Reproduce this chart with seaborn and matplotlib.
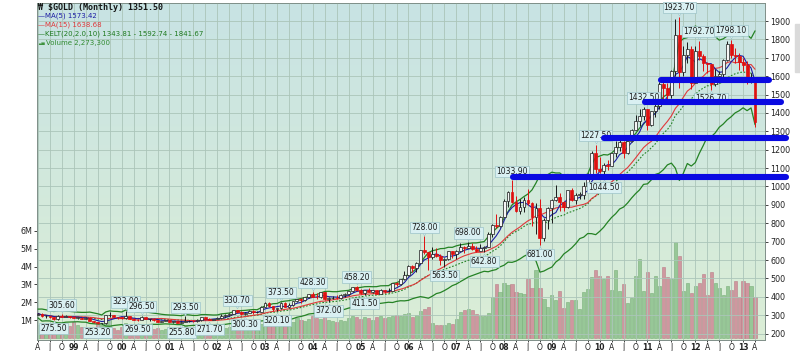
import numpy as np
import pandas as pd
import seaborn as sns
import matplotlib
matplotlib.use('Agg')
import matplotlib.pyplot as plt
from matplotlib.colors import LinearSegmentedColormap
from matplotlib.transforms import offset_copy
from matplotlib.patches import Rectangle

# $GOLD monthly bars, Apr 1998 .. Apr 2013
opens = [301, 309, 293, 297, 288, 277, 294, 292, 294,
         288, 287, 287, 279, 287, 268, 262, 255, 255, 299, 299, 291,
         288, 283, 293, 279, 275, 273, 289, 278, 278, 273, 265, 269,
         273, 265, 267, 258, 264, 267, 270, 266, 273, 290, 279, 275,
         279, 283, 297, 301, 309, 326, 318, 305, 312, 323, 317, 318,
         347, 367, 348, 335, 337, 364, 346, 354, 375, 386, 385, 398,
         416, 400, 397, 424, 388, 394, 394, 391, 410, 416, 429, 453,
         438, 423, 436, 428, 436, 417, 437, 430, 433, 473, 470, 495,
         518, 569, 556, 584, 653, 643, 616, 633, 624, 599, 604, 648,
         632, 651, 670, 663, 679, 659, 650, 665, 673, 743, 789, 783,
         834, 923, 972, 916, 864, 887, 928, 912, 833, 884, 718, 819,
         884, 928, 942, 917, 887, 979, 927, 955, 955, 1003, 1040, 1181,
         1097, 1083, 1118, 1113, 1180, 1213, 1244, 1181, 1248, 1307, 1357, 1386,
         1421, 1333, 1410, 1439, 1557, 1536, 1500, 1628, 1825, 1620, 1717, 1746,
         1565, 1738, 1709, 1669, 1664, 1560, 1599, 1611, 1687, 1774, 1717, 1712,
         1675, 1663, 1578, 1595]
highs = [312, 311, 300, 297, 291, 300, 305.6, 299, 297,
         293, 291, 291, 291, 290, 268, 264, 258, 303, 320, 301, 292,
         291, 323, 295, 286, 277, 296.5, 292, 280, 280, 276, 271, 275,
         274, 269, 270, 266, 293.5, 276, 272, 279, 292, 290, 283, 281,
         289, 305, 304, 311, 328, 330.7, 322, 315, 326, 326, 322, 349,
         371, 372, 352, 341, 373.5, 371, 366, 376, 390, 392, 401, 417,
         428.3, 418, 426, 427, 397, 404, 408, 414, 420, 431, 455, 458.2,
         443, 438, 446, 438, 436, 442, 438, 448, 474, 480, 497, 541,
         572, 575, 587, 655, 728, 645, 669, 663, 634, 610, 650, 648,
         655, 690, 674, 698, 692, 676, 685, 679, 750, 795, 848, 840,
         930, 976, 1033.9, 950, 932, 945, 988, 918, 912, 932, 826, 888,
         932, 1007, 965, 920, 981, 992, 965, 970, 1024, 1071, 1195, 1227.5,
         1162, 1128, 1145, 1183, 1249, 1266, 1245, 1250, 1311, 1388, 1424, 1432.5,
         1424, 1412, 1447, 1569, 1577, 1561, 1633, 1912, 1923.7, 1764, 1788, 1765,
         1763, 1792.7, 1718, 1677, 1666, 1640, 1627, 1694, 1790, 1798.1, 1755, 1725,
         1697, 1683, 1617, 1597]
lows = [300, 291, 287, 286, 275.5, 276, 288, 290, 285,
        283, 280, 277, 277, 266, 256, 253.2, 253.5, 254, 291, 289, 277,
        280, 280, 277, 274, 269.5, 272, 277, 271, 270, 264, 263, 267,
        262, 256, 257, 255.8, 263, 265, 264, 265, 271, 276, 271.7, 272,
        277, 282, 289, 298, 307, 312, 302, 300.3, 311, 309, 314, 317,
        342, 344, 321, 320.1, 336, 343, 341, 351, 372, 367, 378, 396,
        398, 390, 393, 384, 372, 386, 386, 388, 398, 412, 424, 432,
        417, 411.5, 425, 423, 414, 414, 418, 428, 432, 458, 463, 490,
        515, 536, 536, 583, 633, 548, 608, 614, 573, 563.5, 601, 613,
        603, 649, 636, 663, 653, 643, 648, 642.8, 670, 725, 774, 780,
        833, 887, 912, 859, 850, 862, 902, 786, 740, 681, 705, 768,
        800, 922, 866, 866, 883, 919, 905, 932, 932, 1002, 1040, 1075,
        1072, 1044.5, 1088, 1112, 1162, 1192, 1155, 1175, 1241, 1305, 1330, 1360,
        1309, 1328, 1380, 1420, 1462, 1478, 1480, 1603, 1535, 1603, 1670, 1531,
        1563, 1690, 1627, 1615, 1526.7, 1545, 1565, 1590, 1684, 1697, 1673, 1634,
        1626, 1555, 1561, 1321]
closes = [309, 293, 297, 288, 277, 294, 292, 294, 288,
          287, 287, 279, 287, 268, 262, 255, 255, 299, 299, 291, 288,
          283, 293, 279, 275, 273, 289, 278, 278, 273, 265, 269, 273,
          265, 267, 258, 264, 267, 270, 266, 273, 290, 279, 275, 279,
          283, 297, 301, 309, 326, 318, 305, 312, 323, 317, 318, 347,
          367, 348, 335, 337, 364, 346, 354, 375, 386, 385, 398, 416,
          400, 397, 424, 388, 394, 394, 391, 410, 416, 429, 453, 438,
          423, 436, 428, 436, 417, 437, 430, 433, 473, 470, 495, 518,
          569, 556, 584, 653, 643, 616, 633, 624, 599, 604, 648, 632,
          651, 670, 663, 679, 659, 650, 665, 673, 743, 789, 783, 834,
          923, 972, 916, 864, 887, 928, 912, 833, 884, 718, 819, 884,
          928, 942, 917, 887, 979, 927, 955, 955, 1003, 1040, 1181, 1097,
          1083, 1118, 1113, 1180, 1213, 1244, 1181, 1248, 1307, 1357, 1386, 1421,
          1333, 1410, 1439, 1557, 1536, 1500, 1628, 1825, 1620, 1717, 1746, 1565,
          1738, 1709, 1669, 1664, 1560, 1599, 1611, 1687, 1774, 1717, 1712, 1675,
          1663, 1578, 1595, 1351.5]
# volume in millions
volumes = [0.70, 0.45, 0.55, 0.35, 0.45, 0.72, 0.50, 0.62, 0.65,
           0.90, 0.70, 0.60, 0.45, 0.55, 0.62, 0.90, 0.75, 0.95, 1.00, 0.55, 0.45,
           0.60, 0.85, 0.55, 0.45, 0.50, 0.55, 0.40, 0.45, 0.50, 0.55, 0.45, 0.50,
           0.55, 0.50, 0.45, 0.40, 0.65, 0.50, 0.45, 0.50, 0.60, 0.55, 0.45, 0.45,
           0.55, 0.65, 0.55, 0.60, 0.70, 0.75, 0.65, 0.55, 0.70, 0.65, 0.55, 0.80,
           0.90, 1.05, 0.95, 0.80, 0.95, 0.90, 0.85, 0.90, 1.10, 1.00, 0.95, 1.05,
           1.25, 1.10, 1.05, 1.20, 1.00, 0.95, 0.90, 1.00, 0.95, 1.10, 1.20, 1.15,
           1.05, 1.15, 1.10, 1.00, 1.15, 1.20, 1.10, 1.15, 1.20, 1.30, 1.25, 1.35,
           1.40, 1.15, 1.30, 1.50, 1.60, 1.75, 0.85, 0.75, 0.70, 0.75, 0.85, 0.80,
           1.05, 1.45, 1.55, 1.60, 1.55, 1.35, 1.20, 1.25, 1.40, 2.30, 3.00, 2.55,
           3.10, 2.95, 3.05,
           2.6, 2.5, 2.45, 3.3, 2.8, 3.8, 2.8, 2.2, 1.75, 2.4, 2.1, 2.65, 1.7,
           2.0, 2.1, 2.1, 1.6, 2.6, 2.75, 3.4, 3.8, 3.5, 3.3, 3.5, 2.7, 3.8,
           2.65, 3.0, 1.98, 2.25, 3.45, 4.4, 2.65, 3.7, 2.5, 3.45, 2.9, 4.0,
           3.4, 3.3, 5.4, 4.6, 2.65, 3.1, 2.5, 2.9, 3.1, 3.6, 2.4, 3.7, 3.1,
           2.8, 2.4, 2.9, 2.7, 3.2, 2.3, 3.2, 3.1, 2.9, 2.27]

# labelled swing points (month index from Apr 1998, H = high / L = low)
label_months = [4, 6, 15, 22, 25, 26, 36, 37, 43, 50, 52, 60, 61, 69, 73, 80, 82,
                97, 102, 108, 112, 119, 126, 140, 142, 152, 161, 166, 169, 174]
label_kind = ['L', 'H', 'L', 'H', 'L', 'H', 'L', 'H', 'L', 'H', 'L', 'L', 'H', 'H', 'L', 'H', 'L',
              'H', 'L', 'H', 'L', 'H', 'L', 'H', 'L', 'H', 'H', 'H', 'L', 'H']

# hand drawn blue support lines
support_levels = [1580, 1460, 1265, 1053]
support_from = [156.3, 152.5, 142.0, 119.3]
support_to = [183.4, 186.4, 187.7, 187.7]

df = pd.DataFrame({'m': np.arange(len(closes)), 'open': opens, 'high': highs,
                   'low': lows, 'close': closes, 'vol': volumes})
df['ma5'] = df['close'].rolling(5, min_periods=1).mean()
df['ma15'] = df['close'].rolling(15, min_periods=1).mean()
prev = df['close'].shift(1).fillna(df['open'])
tr = pd.concat([df['high'] - df['low'], (df['high'] - prev).abs(),
                (df['low'] - prev).abs()], axis=1).max(axis=1)
atr = tr.ewm(span=10).mean()
df['kmid'] = df['close'].ewm(span=20).mean()
df['kup'] = df['kmid'] + 2 * atr
df['klo'] = df['kmid'] - 2 * atr

sns.set_theme(style='white')
plt.rcParams['font.family'] = ['DejaVu Sans']

fig = plt.figure(figsize=(8, 3.51), dpi=100)
pos = [37 / 800, 11 / 351, 728 / 800, 337 / 351]
xlim = (-0.25, 182.5)

# volume panel underneath, with the gradient background
axv = fig.add_axes(pos)
bg = LinearSegmentedColormap.from_list('bg', ['#c8e3e4', '#dbeed6'])
axv.imshow(np.linspace(0, 1, 256).reshape(-1, 1), cmap=bg, extent=[0, 1, 0, 1],
           transform=axv.transAxes, aspect='auto', zorder=0)
vup = df['close'] >= prev
axv.bar(df['m'], df['vol'], width=0.8, color=np.where(vup, '#97c797', '#cf979f'),
        edgecolor=np.where(vup, '#79ae79', '#b97f88'), linewidth=0.4, zorder=2)
axv.set_xlim(xlim)
axv.set_ylim(-0.12, 18.8)
axv.set_yticks([1, 2, 3, 4, 5, 6])
axv.set_yticklabels([f'{v}M' for v in range(1, 7)])
axv.tick_params(axis='y', left=True, length=2, pad=1.5, labelsize=5.8,
                colors='#222222', width=0.6)
axv.tick_params(axis='x', bottom=False, labelbottom=False)
for s in axv.spines.values():
    s.set_color('#7f8f88')
    s.set_linewidth(0.6)

# price panel
ax = fig.add_axes(pos)
ax.patch.set_alpha(0)
ax.set_axisbelow(True)
quarters = list(range(0, len(closes), 3))
ax.set_xticks(quarters)
qlab = []
for i in quarters:
    mon = (i + 3) % 12 + 1
    yr = 1998 + (i + 3) // 12
    qlab.append(f'{yr % 100:02d}' if mon == 1 else {4: 'A', 7: 'J', 10: 'O'}[mon])
ax.set_xticklabels(qlab)
for t, s in zip(ax.get_xticklabels(), qlab):
    if s.isdigit():
        t.set_fontweight('bold')
ax.set_yticks(range(200, 2000, 100))
ax.yaxis.tick_right()
ax.tick_params(axis='y', right=True, length=2, pad=2, labelsize=5.8,
               colors='#222222', width=0.6)
ax.tick_params(axis='x', bottom=True, length=1.2, pad=0.6, labelsize=5.5,
               colors='#222222', width=0.6)
ax.grid(True, color='#abc5b9', linewidth=0.6)
for s in ax.spines.values():
    s.set_color('#7f8f88')
    s.set_linewidth(0.6)

sns.lineplot(data=df, x='m', y='kup', ax=ax, color='#248224', linewidth=0.9, zorder=3)
sns.lineplot(data=df, x='m', y='klo', ax=ax, color='#248224', linewidth=0.9, zorder=3)
sns.lineplot(data=df, x='m', y='kmid', ax=ax, color='#248224', linewidth=0.8,
             linestyle=(0, (1.5, 1.5)), zorder=3)
sns.lineplot(data=df, x='m', y='ma15', ax=ax, color='#e0383a', linewidth=0.8, zorder=3)
sns.lineplot(data=df, x='m', y='ma5', ax=ax, color='#1d1da3', linewidth=0.8, zorder=3)

# candles
up = df['close'] >= df['open']
ccol = np.where(up, '#1a1a1a', '#e01010')
ax.vlines(df['m'], df['low'], df['high'], colors=ccol, linewidth=0.7, zorder=4)
body = np.maximum((df['close'] - df['open']).abs(), 1.5)
ax.bar(df['m'], body, bottom=np.minimum(df['open'], df['close']), width=0.72,
       color=np.where(up, '#f5f5f5', '#e01010'), edgecolor=ccol, linewidth=0.5, zorder=5)

# swing labels
for m, kind in zip(label_months, label_kind):
    price = highs[m] if kind == 'H' else lows[m]
    dy = 6.5 if kind == 'H' else -6.5
    tip = offset_copy(ax.transData, fig=fig, x=0, y=dy * 0.42, units='points')
    ax.plot([m], [price], marker='v' if kind == 'H' else '^', ms=3.5, color='#d9f0f2',
            mec='#9cc3c8', mew=0.4, transform=tip, zorder=6)
    ax.annotate(f'{price:.2f}', xy=(m, price), xytext=(0, dy), textcoords='offset points',
                ha='center', va='center', fontsize=5.5, color='#1a1a1a', zorder=7,
                bbox=dict(boxstyle='square,pad=0.15', fc='#d9f0f2', ec='#9cc3c8', lw=0.5))

for lev, a, b in zip(support_levels, support_from, support_to):
    ax.plot([a, b], [lev, lev], color='#0a0ae2', linewidth=4.4, solid_capstyle='round',
            clip_on=False, zorder=8)

ax.set_xlim(xlim)
ax.set_ylim(165, 1998)
ax.set_xlabel('')
ax.set_ylabel('')

# legend block, top left
fig.text(38 / 800, 1 - 7 / 351, '\u20a9 $GOLD (Monthly) 1351.50', fontsize=6,
         family=['DejaVu Sans Mono', 'DejaVu Sans'], fontweight='bold',
         color='#151515', va='center')
fig.text(38 / 800, 1 - 16 / 351, '\u2014MA(5) 1573.42', fontsize=5, color='#1d1da3', va='center')
fig.text(38 / 800, 1 - 25 / 351, '\u2014MA(15) 1638.68', fontsize=5, color='#e0383a', va='center')
fig.text(38 / 800, 1 - 34 / 351, '\u2014KELT(20,2.0,10) 1343.81 - 1592.74 - 1841.67',
         fontsize=5, color='#1f7a1f', va='center')
fig.text(38 / 800, 1 - 43 / 351, '\u2583\u2585', fontsize=3.2, color='#3f923f', va='center')
fig.text(46 / 800, 1 - 43 / 351, 'Volume 2,273,300', fontsize=5, color='#2f8a2f', va='center')

# scrollbar remnant at the right edge
fig.patches.append(Rectangle((795 / 800, 1 - 72 / 351), 5 / 800, 48 / 351,
                             transform=fig.transFigure, color='#dadada'))

fig.savefig('out.png', dpi=100)
